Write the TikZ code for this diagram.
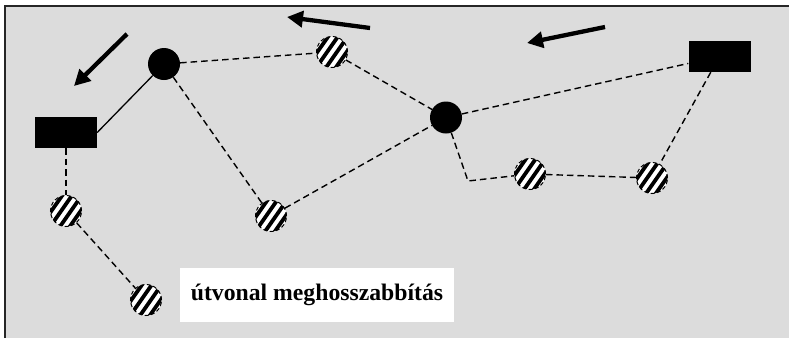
\documentclass[tikz,border=0pt]{standalone}
\usepackage{fontspec}
\setmainfont{Liberation Serif}
\usetikzlibrary{arrows.meta,calc}
\definecolor{bggray}{RGB}{220,220,220}
\tikzset{
  blackdot/.style={circle,fill=black,minimum size=32pt,inner sep=0pt},
  blackbox/.style={rectangle,fill=black,minimum width=62pt,minimum height=31pt,inner sep=0pt},
  stripedot/.style={circle,fill=white,minimum size=31pt,inner sep=0pt,
    draw=black,line width=1pt,dash pattern=on 4pt off 2.5pt,
    path picture={
        \foreach \k in {-20,-12,-4,4,12,20}{
          \draw[line width=3.8pt,solid,black]
            ($(path picture bounding box.center)+({\k*0.819-22*0.574},{\k*0.574+22*0.819})$) --
            ($(path picture bounding box.center)+({\k*0.819+22*0.574},{\k*0.574-22*0.819})$);}}},
  conn/.style={draw=black,line width=1.4pt,dash pattern=on 6.5pt off 4pt},
  solidconn/.style={draw=black,line width=1.3pt},
  bigarrow/.style={draw=black,line width=4.3pt,-{Triangle[length=16pt,width=16pt]}},
  labelbox/.style={rectangle,fill=white,minimum width=274pt,minimum height=54pt,inner sep=0pt,
    font=\fontsize{23.7}{28}\selectfont\bfseries}
}
\begin{document}
\begin{tikzpicture}[x=1pt,y=-1pt]
\useasboundingbox (0,0) rectangle (789,338);
\fill[white] (0,0) rectangle (789,338);
\fill[bggray] (5,6) rectangle (789,338);
\draw[line width=2pt,black!85] (5,338) -- (5,6) -- (789,6);
% nodes
\node[blackbox] (rL) at (66,132.5) {};
\node[blackbox] (rR) at (719.5,56.5) {};
\node[blackdot] (c1) at (164,64) {};
\node[blackdot] (c2) at (446,117.5) {};
\node[stripedot] (sA) at (332,52) {};
\node[stripedot] (sB) at (271,216) {};
\node[stripedot] (s1) at (66,211) {};
\node[stripedot] (s2) at (146,300) {};
\node[stripedot] (sC) at (530,174) {};
\node[stripedot] (sD) at (652,178) {};
\coordinate (bend) at (468,181);
\node[labelbox] (lab) at (317,295) {útvonal meghosszabbítás};
% connectors
\draw[solidconn] (rL.east) -- (c1);
\draw[conn] (c1) -- (sA);
\draw[conn] (c1) -- (sB);
\draw[conn] (sA) -- (c2);
\draw[conn] (sB) -- (c2);
\draw[conn] (c2) -- (rR);
\draw[conn] (rR) -- (sD);
\draw[conn] (sC) -- (sD);
\draw[conn] (c2) -- (bend) -- (sC);
\draw[conn] (rL) -- (s1);
\draw[conn] (s1) -- (s2);
% arrows
\coordinate (a1s) at (127,34);
\coordinate (a1e) at (74,86);
\coordinate (a2s) at (370,28);
\coordinate (a2e) at (287,17);
\coordinate (a3s) at (605,27);
\coordinate (a3e) at (527,43);
\draw[bigarrow] (a1s) -- (a1e);
\draw[bigarrow] (a2s) -- (a2e);
\draw[bigarrow] (a3s) -- (a3e);
\end{tikzpicture}
\end{document}
